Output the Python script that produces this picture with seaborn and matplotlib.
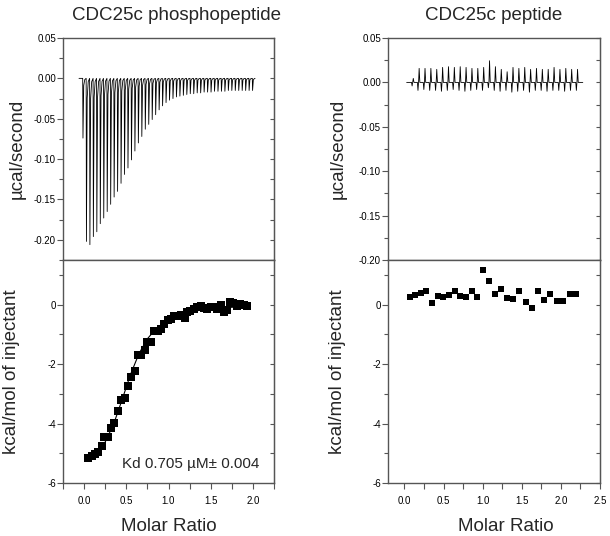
import matplotlib
matplotlib.use('Agg')
import matplotlib.pyplot as plt
import seaborn as sns
import pandas as pd
from matplotlib.ticker import MultipleLocator, FormatStrFormatter

# --- CDC25c fosfopeptido: profundidad de cada pico (ucal/s) ---
phospho_peaks = [-0.074, -0.202, -0.206, -0.196, -0.190, -0.180, -0.173, -0.165, -0.156, -0.147,
                 -0.140, -0.130, -0.119, -0.111, -0.101, -0.090, -0.080, -0.072, -0.063, -0.057,
                 -0.051, -0.045, -0.039, -0.034, -0.030, -0.027, -0.025, -0.023, -0.022, -0.021,
                 -0.020, -0.019, -0.019, -0.018, -0.018, -0.017, -0.017, -0.017, -0.016, -0.016,
                 -0.016, -0.016, -0.015, -0.015, -0.015, -0.015, -0.015, -0.015, -0.015, -0.015]

# isoterma integrada (kcal/mol de inyectante)
phospho_ratio = [0.05, 0.09, 0.13, 0.17, 0.21, 0.24, 0.28, 0.32, 0.36, 0.40,
                 0.44, 0.48, 0.52, 0.56, 0.60, 0.64, 0.68, 0.72, 0.75, 0.79,
                 0.83, 0.87, 0.91, 0.95, 0.99, 1.03, 1.07, 1.11, 1.15, 1.19,
                 1.22, 1.26, 1.30, 1.34, 1.38, 1.42, 1.46, 1.50, 1.54, 1.58,
                 1.62, 1.66, 1.69, 1.73, 1.77, 1.81, 1.85, 1.89, 1.93]
phospho_heat = [-5.15, -5.08, -5.04, -4.96, -4.76, -4.45, -4.45, -4.15, -3.97, -3.57,
                -3.21, -3.13, -2.73, -2.42, -2.22, -1.71, -1.69, -1.54, -1.26, -1.26,
                -0.90, -0.90, -0.81, -0.64, -0.53, -0.47, -0.40, -0.37, -0.35, -0.44,
                -0.25, -0.20, -0.15, -0.08, -0.04, -0.10, -0.14, -0.08, -0.09, -0.14,
                -0.03, -0.25, -0.17, 0.10, 0.04, -0.06, 0.02, -0.03, -0.05]

# curva de ajuste
fit_ratio = [0.05, 0.15, 0.25, 0.35, 0.45, 0.55, 0.65, 0.75, 0.85, 0.95,
             1.05, 1.15, 1.25, 1.35, 1.45, 1.55, 1.65, 1.75, 1.85, 1.93]
fit_heat = [-5.15, -4.98, -4.62, -4.02, -3.20, -2.35, -1.65, -1.15, -0.82, -0.60,
            -0.45, -0.34, -0.26, -0.20, -0.16, -0.13, -0.11, -0.09, -0.08, -0.07]

# --- CDC25c peptido ---
peptide_up = [0.0045, 0.0158, 0.0158, 0.0158, 0.0147, 0.0169, 0.0177, 0.0169, 0.0177, 0.0169,
              0.0158, 0.0158, 0.0169, 0.0244, 0.0177, 0.0147, 0.0120, 0.0169, 0.0158, 0.0169,
              0.0147, 0.0158, 0.0147, 0.0147, 0.0169, 0.0147, 0.0158, 0.0147, 0.0147]
peptide_down = [-0.004, -0.009, -0.008, -0.009, -0.009, -0.010, -0.009, -0.008, -0.009, -0.010,
                -0.009, -0.008, -0.009, -0.006, -0.009, -0.010, -0.009, -0.011, -0.010, -0.009,
                -0.011, -0.009, -0.009, -0.010, -0.009, -0.009, -0.010, -0.009, -0.009]
peptide_ratio = [0.073, 0.141, 0.214, 0.282, 0.355, 0.423, 0.496, 0.568, 0.641, 0.714,
                 0.782, 0.859, 0.932, 1.009, 1.085, 1.162, 1.235, 1.316, 1.389, 1.470,
                 1.551, 1.628, 1.709, 1.786, 1.863, 1.949, 2.026, 2.111, 2.192]
peptide_heat = [0.24, 0.32, 0.39, 0.46, 0.07, 0.28, 0.25, 0.32, 0.46, 0.30,
                0.25, 0.45, 0.27, 1.17, 0.79, 0.36, 0.52, 0.23, 0.18, 0.46,
                0.08, -0.11, 0.46, 0.15, 0.37, 0.11, 0.11, 0.37, 0.35]

sns.set_style('white')
plt.rcParams['font.family'] = ['Liberation Sans', 'DejaVu Sans']
plt.rcParams['axes.unicode_minus'] = False

SPINE = '#555555'


def trace_spikes(depths):
    # linea base con un pico agudo por inyeccion
    t, y = [-1.07], [0.0]
    for i, d in enumerate(depths):
        t += [i, i + 0.08, i + 0.3, i + 0.6]
        y += [0.0, d, 0.12 * d, 0.02 * d]
    t.append(len(depths) - 1 + 0.8)
    y.append(0.0)
    return pd.DataFrame({'t': t, 'y': y})


def trace_bipolar(ups, downs):
    t, y = [-1.13], [0.0]
    for i, (u, d) in enumerate(zip(ups, downs)):
        t += [i - 0.3, i - 0.2, i - 0.1, i, i + 0.12]
        y += [0.0, d, 0.0, u, 0.0]
    t.append(len(ups) - 1 + 0.9)
    y.append(0.0)
    return pd.DataFrame({'t': t, 'y': y})


def style_axes(ax, bottom_ticks):
    for s in ax.spines.values():
        s.set_color(SPINE)
        s.set_linewidth(1.0)
    ax.tick_params(axis='y', which='both', direction='out', left=True, right=False,
                   colors=SPINE, labelcolor='black', labelsize=7, pad=1, width=0.8)
    ax.tick_params(axis='y', which='major', length=4)
    ax.tick_params(axis='y', which='minor', length=3)
    if bottom_ticks:
        ax.tick_params(axis='x', which='both', direction='out', bottom=True, top=False,
                       colors=SPINE, labelcolor='black', labelsize=7, pad=5, width=0.8, length=4)
    else:
        ax.set_xticks([])
    sec = ax.secondary_yaxis('right')
    sec.yaxis.set_major_locator(ax.yaxis.get_major_locator())
    sec.yaxis.set_minor_locator(ax.yaxis.get_minor_locator())
    sec.tick_params(which='both', direction='in', length=3, width=0.8, colors=SPINE, labelright=False)
    sec.spines['right'].set_color(SPINE)


fig = plt.figure(figsize=(6.1, 5.36), dpi=100)
W, H = 610.0, 536.0


def add(x0, x1, y0, y1):
    return fig.add_axes([x0 / W, 1 - y1 / H, (x1 - x0) / W, (y1 - y0) / H])


ax1 = add(63, 274, 38, 260)
ax2 = add(63, 274, 260, 483)
ax3 = add(388, 600, 38, 260)
ax4 = add(388, 600, 260, 483)

# panel superior izquierdo
sns.lineplot(data=trace_spikes(phospho_peaks), x='t', y='y', sort=False, estimator=None,
             color='black', lw=0.6, ax=ax1)
ax1.set_xlim(-5.69, 55.27)
ax1.set_ylim(-0.225, 0.05)
ax1.yaxis.set_major_locator(MultipleLocator(0.05))
ax1.yaxis.set_minor_locator(MultipleLocator(0.025))
ax1.yaxis.set_major_formatter(FormatStrFormatter('%.2f'))
style_axes(ax1, False)
ax1.set_xlabel('')
ax1.set_ylabel('µcal/second', fontsize=13.5)

# panel inferior izquierdo
sns.lineplot(x=fit_ratio, y=fit_heat, color='black', lw=0.8, ax=ax2)
sns.scatterplot(x=phospho_ratio, y=phospho_heat, marker='s', color='black', s=28,
                linewidth=0, ax=ax2)
ax2.set_xlim(-0.25, 2.25)
ax2.set_ylim(-6, 1.5)
ax2.xaxis.set_major_locator(MultipleLocator(0.5))
ax2.xaxis.set_minor_locator(MultipleLocator(0.25))
ax2.xaxis.set_major_formatter(FormatStrFormatter('%.1f'))
ax2.yaxis.set_major_locator(MultipleLocator(2))
ax2.yaxis.set_minor_locator(MultipleLocator(1))
ax2.yaxis.set_major_formatter(FormatStrFormatter('%d'))
style_axes(ax2, True)
ax2.set_xlabel('Molar Ratio', fontsize=13.5)
ax2.set_ylabel('kcal/mol of injectant', fontsize=13.5)
ax2.text(0.445, -5.35, 'Kd 0.705 µM± 0.004', fontsize=11, va='center', ha='left')

# panel superior derecho
sns.lineplot(data=trace_bipolar(peptide_up, peptide_down), x='t', y='y', sort=False,
             estimator=None, color='black', lw=0.6, ax=ax3)
ax3.set_xlim(-4.31, 31.83)
ax3.set_ylim(-0.2, 0.05)
ax3.yaxis.set_major_locator(MultipleLocator(0.05))
ax3.yaxis.set_minor_locator(MultipleLocator(0.025))
ax3.yaxis.set_major_formatter(FormatStrFormatter('%.2f'))
style_axes(ax3, False)
ax3.set_xlabel('')
ax3.set_ylabel('µcal/second', fontsize=13.5)

# panel inferior derecho
sns.scatterplot(x=peptide_ratio, y=peptide_heat, marker='s', color='black', s=24,
                linewidth=0, ax=ax4)
ax4.set_xlim(-0.21, 2.5)
ax4.set_ylim(-6, 1.5)
ax4.xaxis.set_major_locator(MultipleLocator(0.5))
ax4.xaxis.set_minor_locator(MultipleLocator(0.25))
ax4.xaxis.set_major_formatter(FormatStrFormatter('%.1f'))
ax4.yaxis.set_major_locator(MultipleLocator(2))
ax4.yaxis.set_minor_locator(MultipleLocator(1))
ax4.yaxis.set_major_formatter(FormatStrFormatter('%d'))
style_axes(ax4, True)
ax4.set_xlabel('Molar Ratio', fontsize=13.5)
ax4.set_ylabel('kcal/mol of injectant', fontsize=13.5)

# posiciones de etiquetas
for ax, xc in [(ax1, 17), (ax2, 12), (ax3, 338), (ax4, 337)]:
    ax.yaxis.label.set_va('center')
    x0 = ax.get_position().x0 * W
    w = ax.get_position().width * W
    ax.yaxis.set_label_coords((xc - x0) / w, 0.5)
ax2.xaxis.set_label_coords(0.5, -0.155)
ax4.xaxis.set_label_coords((506 - 388) / 212, -0.155)

fig.text(176 / W, 1 - 15 / H, 'CDC25c phosphopeptide', fontsize=13.5, ha='center', va='center')
fig.text(494 / W, 1 - 15 / H, 'CDC25c peptide', fontsize=13.5, ha='center', va='center')

fig.savefig('out.png', dpi=100)
